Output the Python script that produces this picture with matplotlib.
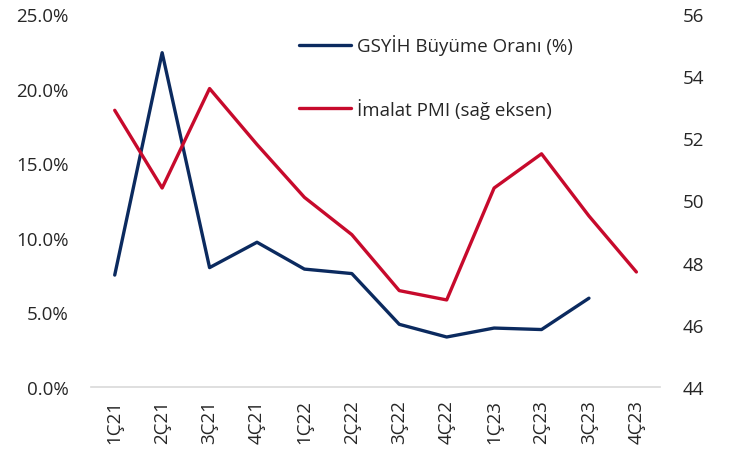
import matplotlib.pyplot as plt
from matplotlib.ticker import FuncFormatter

plt.rcParams['font.family'] = ['Open Sans', 'DejaVu Sans']

# veriler
quarters = ["1Ç21", "2Ç21", "3Ç21", "4Ç21", "1Ç22", "2Ç22",
            "3Ç22", "4Ç22", "1Ç23", "2Ç23", "3Ç23", "4Ç23"]
gdp = [7.5, 22.4, 8.0, 9.7, 7.9, 7.6, 4.2, 3.35, 3.95, 3.85, 5.95]   # %
pmi = [52.9, 50.4, 53.6, 51.8, 50.1, 48.9, 47.1, 46.8, 50.4, 51.5, 49.5, 47.7]

navy = "#0B2A5F"
red = "#C70A2C"
txt = "#262626"
fs = 13.5

fig = plt.figure(figsize=(7.31, 4.52), dpi=100)
ax = fig.add_axes([0.1245, 0.1416, 0.7785, 0.8254])
ax2 = ax.twinx()

x = list(range(len(quarters)))
l1, = ax.plot(x[:len(gdp)], gdp, color=navy, lw=2.4, solid_capstyle="round",
              label="GSYİH Büyüme Oranı (%)")
l2, = ax2.plot(x, pmi, color=red, lw=2.4, solid_capstyle="round",
               label="İmalat PMI (sağ eksen)")

ax.set_xlim(-0.5, len(quarters) - 0.5)
ax.set_ylim(0, 25)
ax.set_yticks([0, 5, 10, 15, 20, 25])
ax.yaxis.set_major_formatter(FuncFormatter(lambda v, p: f"{v:.1f}%"))
ax2.set_ylim(44, 56)
ax2.set_yticks(range(44, 57, 2))

ax.set_xticks(x)
ax.set_xticklabels(quarters, rotation=90)

for a in (ax, ax2):
    for s in a.spines.values():
        s.set_visible(False)
    a.tick_params(length=0, labelsize=fs, colors=txt)
ax.spines["bottom"].set_visible(True)
ax.spines["bottom"].set_color("#D9D9D9")
ax.spines["bottom"].set_linewidth(1.2)
ax.tick_params(axis="y", pad=16)
ax2.tick_params(axis="y", pad=16)
ax.tick_params(axis="x", pad=9)

leg = ax.legend(handles=[l1, l2], loc="upper left", bbox_to_anchor=(0.335, 0.99),
                frameon=False, fontsize=fs, handlelength=2.8, handletextpad=0.3,
                labelspacing=2.25)
for t in leg.get_texts():
    t.set_color(txt)

fig.savefig("out.png", dpi=100)
